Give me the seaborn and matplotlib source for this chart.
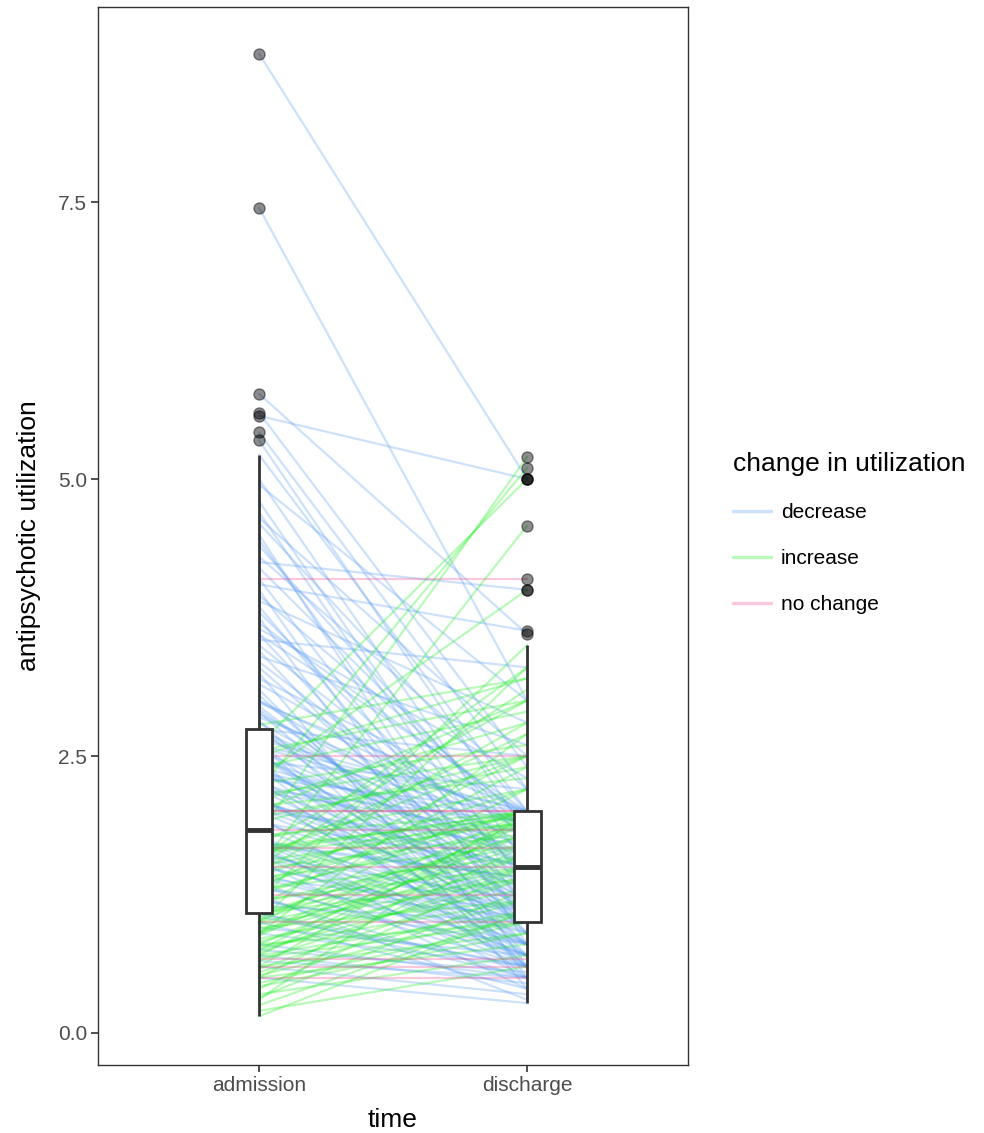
import matplotlib
matplotlib.use("Agg")
import matplotlib.pyplot as plt
import seaborn as sns
import numpy as np
import pandas as pd

# antipsychotic utilization per patient (pairs by position)
admission = [
    8.84, 7.45, 5.77, 5.6, 5.57, 5.42, 5.35,
    5.22, 5.0, 4.95, 4.7, 4.65, 4.5, 4.4, 4.3, 4.25, 4.1,
    4.05, 4.0, 3.95, 3.9, 3.8, 3.75, 3.7, 3.6, 3.55, 3.5,
    3.45, 3.4, 3.3, 3.25, 3.2, 3.15, 3.1, 3.0, 3.0, 2.95,
    2.9, 2.85, 2.74, 2.72,
    4.1,
    4.8, 4.6, 4.45, 4.2, 3.85, 3.65, 3.35, 3.05, 2.98, 2.92,
    2.88, 2.82, 2.8, 3.6, 2.78,
    2.74, 2.65, 2.6, 2.55, 2.5, 2.5, 2.45, 2.4, 2.4, 2.35,
    2.3, 2.3, 2.25, 2.2, 2.2, 2.15, 2.1, 2.05, 2.0, 2.0,
    1.95, 1.9, 1.9, 1.85, 2.74, 2.45, 2.1,
    2.74, 2.62, 2.58, 2.52, 2.48, 2.42, 2.38, 2.32, 2.28, 2.22,
    2.18, 2.12, 2.08, 2.02, 1.66, 1.72, 1.76, 1.74, 2.6, 2.35,
    2.6, 2.2, 2.5, 2.1, 2.0, 1.9, 2.3, 1.95, 2.4,
    2.55, 2.25, 2.05, 1.63, 1.56, 2.15,
    2.5, 2.0, 2.0, 1.83,
    1.75, 1.7, 1.7, 1.65, 1.6, 1.55, 1.5, 1.45, 1.4, 1.35,
    1.3, 1.25, 1.2, 1.15, 1.08, 1.6, 1.4,
    1.72, 1.52, 1.32, 1.22, 1.08, 1.58,
    1.8, 1.5, 1.2, 1.75, 1.7, 1.65, 1.6, 1.55, 1.5, 1.45,
    1.4, 1.35, 1.3, 1.25, 1.2, 1.15, 1.08, 1.3, 1.08, 1.5,
    1.78, 1.62, 1.48, 1.38, 1.28, 1.18, 1.08, 1.42, 1.58, 1.68,
    1.67, 1.5, 1.25,
    1.05, 1.0, 1.0, 0.95, 0.9, 0.9, 0.85, 0.8, 0.8, 0.75,
    0.75, 0.7, 0.7, 0.65, 0.6, 0.6, 0.55, 0.5, 0.5, 0.45,
    0.4, 0.35, 0.3, 0.25, 0.2, 0.15, 1.0, 0.9,
    1.02, 0.98, 0.92, 0.88, 0.82, 0.78, 0.72, 0.68, 0.58, 0.52,
    0.42, 0.32,
    1.05, 1.0, 0.95, 0.8, 0.7, 0.6, 0.5, 0.9, 0.75, 0.65,
    1.0, 0.67, 0.6, 0.5,
]
discharge = [
    5.0, 3.0, 3.6, 2.4, 5.0, 2.2, 1.8,
    2.0, 1.5, 3.0, 1.2, 2.5, 0.8, 1.7, 2.2, 4.0, 1.0,
    3.63, 0.6, 1.9, 2.8, 1.4, 0.5, 1.95, 1.0, 3.3, 1.6,
    0.9, 2.6, 1.2, 0.4, 2.0, 1.8, 0.7, 1.5, 1.85, 1.1,
    0.8, 1.9, 2.5, 1.3,
    4.1,
    1.3, 2.0, 1.1, 1.8, 1.0, 2.3, 1.5, 0.9, 2.0, 1.2,
    1.7, 0.6, 1.5, 2.0, 3.2,
    1.0, 2.0, 0.6, 1.5, 1.2, 1.0, 2.2, 1.8, 0.5, 1.4,
    2.0, 0.8, 1.6, 1.0, 1.9, 0.7, 1.3, 1.5, 1.0, 1.7,
    0.6, 1.2, 1.5, 0.9, 1.6, 0.7, 1.1,
    1.4, 0.8, 1.9, 1.1, 1.6, 0.9, 1.2, 1.7, 0.6, 1.3,
    1.8, 0.8, 1.5, 1.2, 0.7, 1.4, 1.1, 0.8, 2.0, 1.9,
    5.0, 5.1, 3.2, 2.8, 3.0, 2.5, 4.0, 2.4, 2.9,
    3.0, 2.6, 2.3, 2.0, 3.3, 2.5,
    2.5, 2.0, 2.0, 1.83,
    1.0, 0.5, 1.4, 0.8, 1.2, 0.4, 1.0, 0.7, 1.1, 0.6,
    1.05, 0.3, 0.8, 1.0, 0.5, 0.6, 0.8,
    0.7, 0.9, 0.7, 0.5, 0.6, 1.1,
    5.2, 4.58, 3.5, 2.2, 3.0, 2.0, 2.5, 1.9, 2.0, 2.8,
    1.7, 2.0, 1.6, 2.0, 1.5, 2.4, 1.8, 2.5, 1.4, 3.1,
    2.0, 1.9, 1.8, 2.0, 1.9, 1.7, 1.6, 2.2, 2.7, 1.95,
    1.67, 1.5, 1.25,
    1.9, 1.5, 2.2, 1.2, 2.0, 1.6, 1.3, 1.8, 1.0, 1.95,
    1.4, 1.1, 1.9, 1.5, 0.9, 2.0, 1.2, 1.7, 0.8, 1.0,
    1.5, 0.7, 2.0, 1.1, 0.6, 1.1, 3.3, 2.7,
    1.8, 1.4, 1.7, 1.9, 1.5, 1.2, 1.6, 1.0, 1.4, 1.1,
    0.9, 1.3,
    0.6, 0.4, 0.7, 0.5, 0.45, 0.35, 0.27, 0.6, 0.55, 0.5,
    1.0, 0.67, 0.6, 0.5,
]
times = ["admission", "discharge"]
change_levels = ["decrease", "increase", "no change"]
change_colors = ["#5a9cf2", "#1aee1a", "#ee4a8c"]

adm = np.array(admission)
dis = np.array(discharge)
n = len(adm)
change = np.where(dis < adm, "decrease", np.where(dis > adm, "increase", "no change"))

df = pd.DataFrame({
    "id": np.tile(np.arange(n), 2),
    "time": np.repeat(times, n),
    "value": np.concatenate([adm, dis]),
    "change": np.tile(change, 2),
})

sns.set_style("ticks")
plt.rcParams["font.family"] = ["Liberation Sans", "DejaVu Sans"]

fig = plt.figure(figsize=(9.84, 11.33), dpi=100)
ax = fig.add_axes([0.0996, 0.060, 0.5996, 0.9338])

sns.lineplot(data=df, x="time", y="value", hue="change", hue_order=change_levels,
             palette=change_colors, units="id", estimator=None, alpha=0.3, lw=1.6,
             zorder=0.5, ax=ax)
sns.boxplot(data=df, x="time", y="value", width=0.1, color="white",
            linecolor="#333333", linewidth=2, showcaps=False,
            medianprops={"linewidth": 3.5},
            flierprops={"marker": "o", "markerfacecolor": "black",
                        "markeredgecolor": "black", "alpha": 0.45, "markersize": 8},
            ax=ax)

ax.set_xlim(-0.6, 1.6)
ax.set_ylim(-0.289, 9.26)
ax.set_yticks([0, 2.5, 5.0, 7.5])
ax.set_yticklabels(["0.0", "2.5", "5.0", "7.5"])
ax.set_xlabel("time", fontsize=19, labelpad=9, color="black")
ax.set_ylabel("antipsychotic utilization", fontsize=19, labelpad=12, color="black")
ax.tick_params(direction="out", length=5, width=1.2, color="#333333",
               labelcolor="#4d4d4d", labelsize=15, pad=3)
for s in ax.spines.values():
    s.set_visible(True)
    s.set_color("#333333")
    s.set_linewidth(1.0)

handles, labels = ax.get_legend_handles_labels()
leg = ax.legend(handles, labels, title="change in utilization", frameon=False,
                loc="upper left", bbox_to_anchor=(0.745, 0.601),
                bbox_transform=fig.transFigure, fontsize=15, title_fontsize=19,
                alignment="left", handlelength=1.8, handletextpad=0.5,
                labelspacing=1.3, borderpad=0, borderaxespad=0)
for h in leg.legend_handles:
    h.set_alpha(0.3)
    h.set_linewidth(2.5)
for t in leg.get_texts():
    t.set_color("black")
leg.get_title().set_color("black")

fig.savefig("out.png", dpi=100)
